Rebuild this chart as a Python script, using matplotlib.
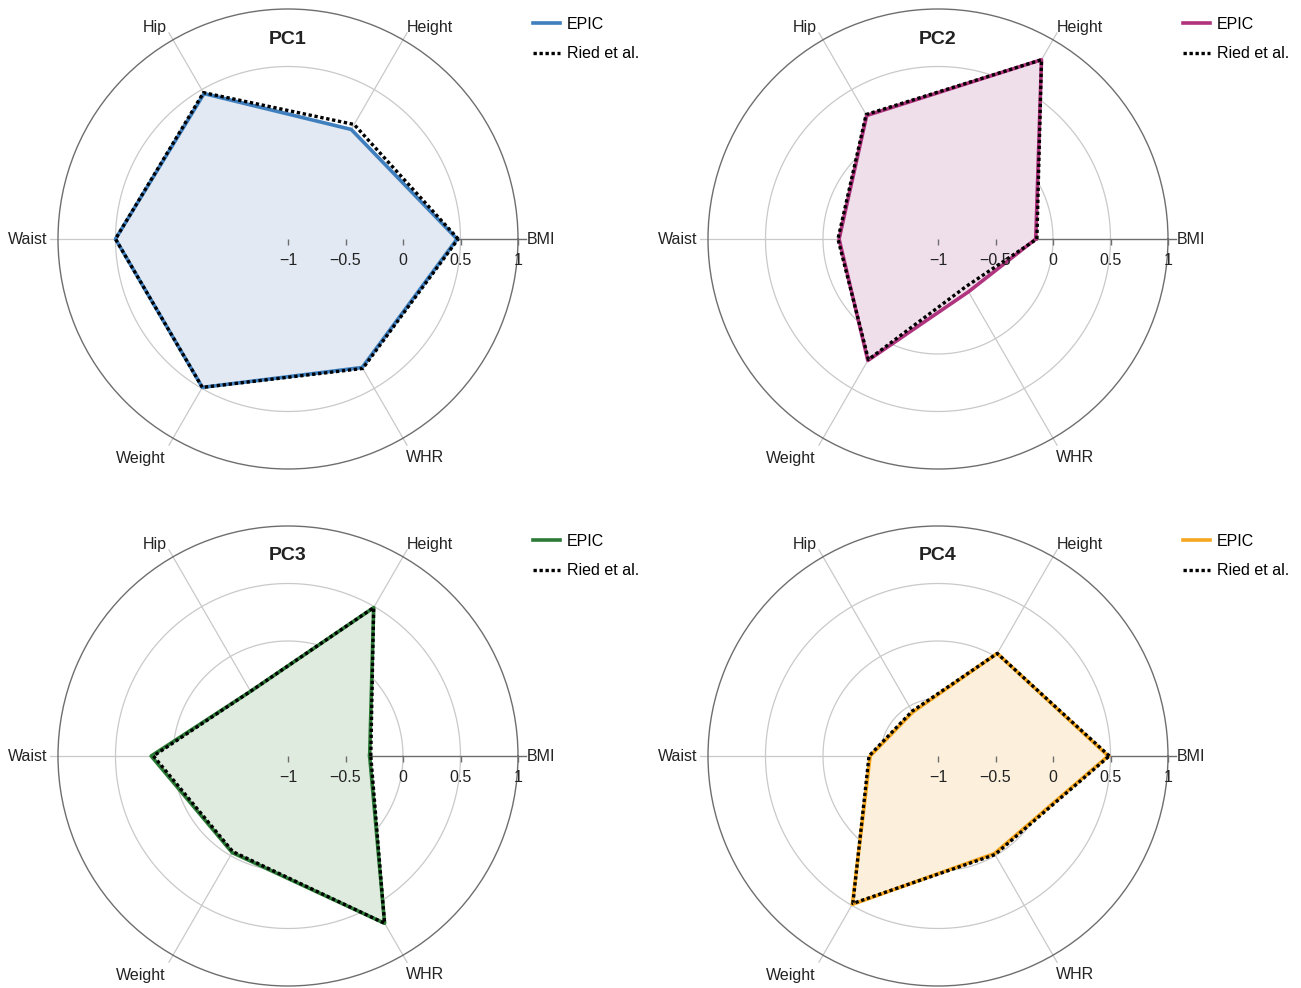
import numpy as np
import matplotlib
matplotlib.use('Agg')
import matplotlib.pyplot as plt

plt.rcParams['font.family'] = ['Liberation Sans', 'DejaVu Sans']

# loadings of the six anthropometric traits on each principal component
traits = ['BMI', 'Height', 'Hip', 'Waist', 'Weight', 'WHR']
pcs = ['PC1', 'PC2', 'PC3', 'PC4']

epic_pc1 = [0.47, 0.10, 0.46, 0.50, 0.49, 0.29]
ried_pc1 = [0.48, 0.15, 0.47, 0.50, 0.49, 0.30]
epic_pc2 = [-0.15, 0.80, 0.24, -0.14, 0.22, -0.47]
ried_pc2 = [-0.14, 0.80, 0.25, -0.13, 0.21, -0.52]
epic_pc3 = [-0.29, 0.49, -0.35, 0.19, -0.03, 0.68]
ried_pc3 = [-0.28, 0.49, -0.35, 0.17, -0.04, 0.68]
epic_pc4 = [0.48, 0.03, -0.56, -0.41, 0.49, -0.02]
ried_pc4 = [0.49, 0.03, -0.55, -0.40, 0.48, -0.01]

rticks = [-1, -0.5, 0, 0.5, 1]
rtick_labels = ['\u22121', '\u22120.5', '0', '0.5', '1']

line_colors = ['#3f7fbd', '#b0337e', '#2b7a35', '#f5a71f']
fill_colors = ['#e2e9f2', '#efdfeb', '#e0ebe0', '#fcf0dc']

epic = [epic_pc1, epic_pc2, epic_pc3, epic_pc4]
ried = [ried_pc1, ried_pc2, ried_pc3, ried_pc4]

W, H = 1301, 988
fig = plt.figure(figsize=(W / 100, H / 100), dpi=100)

centers = [(288, 239), (938, 239), (288, 756), (938, 756)]
R = 230
angles = np.deg2rad(np.arange(6) * 60)
ang_closed = np.append(angles, angles[0])
circ = np.linspace(0, 2 * np.pi, 400)

# pixel offsets of the trait names from the plot centre
label_off = {
    'BMI': (253, 0),
    'Height': (142, 212),
    'Hip': (-133, 212),
    'Waist': (-260, 0),
    'Weight': (-147, -219),
    'WHR': (137, -218),
}

for i, (cx, cy) in enumerate(centers):
    ax = fig.add_axes([(cx - R) / W, 1 - (cy + R) / H, 2 * R / W, 2 * R / H],
                      projection='polar')
    ax.set_ylim(-1, 1)
    ax.set_xticks([])
    ax.set_yticks([])
    ax.grid(False)
    ax.spines['polar'].set_color('#6e6e6e')
    ax.spines['polar'].set_linewidth(1.0)

    for r in [-0.5, 0, 0.5]:
        ax.plot(circ, np.full_like(circ, r), color='#c9c9c9', lw=0.9, zorder=1)
    for a in angles[1:]:
        ax.plot([a, a], [-1, 1.07], color='#c9c9c9', lw=0.9, clip_on=False, zorder=1)
    ax.plot([0, 0], [-1, 1.07], color='#6e6e6e', lw=1.0, clip_on=False, zorder=1)

    vals_e = np.append(epic[i], epic[i][0])
    vals_r = np.append(ried[i], ried[i][0])
    ax.fill(ang_closed, vals_e, color=fill_colors[i], zorder=2)
    ax.plot(ang_closed, vals_e, color=line_colors[i], lw=2.6, zorder=3, label='EPIC')
    ax.plot(ang_closed, vals_r, color='black', lw=2.4, ls=(0, (1, 0.8)),
            dash_capstyle='butt', zorder=4, label='Ried et al.')

    # radial scale along the BMI spoke
    for r, lab in zip(rticks, rtick_labels):
        ax.plot([0], [r], marker=3, color='#6e6e6e', ms=4, mew=1.0, clip_on=False, zorder=5)
        ax.annotate(lab, xy=(0, r), xytext=(0, -21), textcoords='offset pixels',
                    ha='center', va='center', fontsize=11.5, color='#222222',
                    annotation_clip=False, zorder=6)

    for t in traits:
        dx, dy = label_off[t]
        ax.annotate(t, xy=(0, -1), xytext=(dx, dy), textcoords='offset pixels',
                    ha='center', va='center', fontsize=11.5, color='#222222',
                    annotation_clip=False)

    fig.text(cx / W, 1 - 40 / H if i < 2 else 1 - 556 / H, pcs[i],
             ha='center', va='center', fontsize=14, fontweight='bold', color='#222222')

    leg_x = 533 if i % 2 == 0 else 1183
    leg_y = 17 if i < 2 else 534
    ax.legend(loc='upper left', bbox_to_anchor=(leg_x / W, 1 - leg_y / H),
              bbox_transform=fig.transFigure, frameon=False, fontsize=11.5,
              borderaxespad=0, borderpad=0, handlelength=1.7, handletextpad=0.4,
              labelspacing=0.9)

fig.savefig('out.png', dpi=100)
